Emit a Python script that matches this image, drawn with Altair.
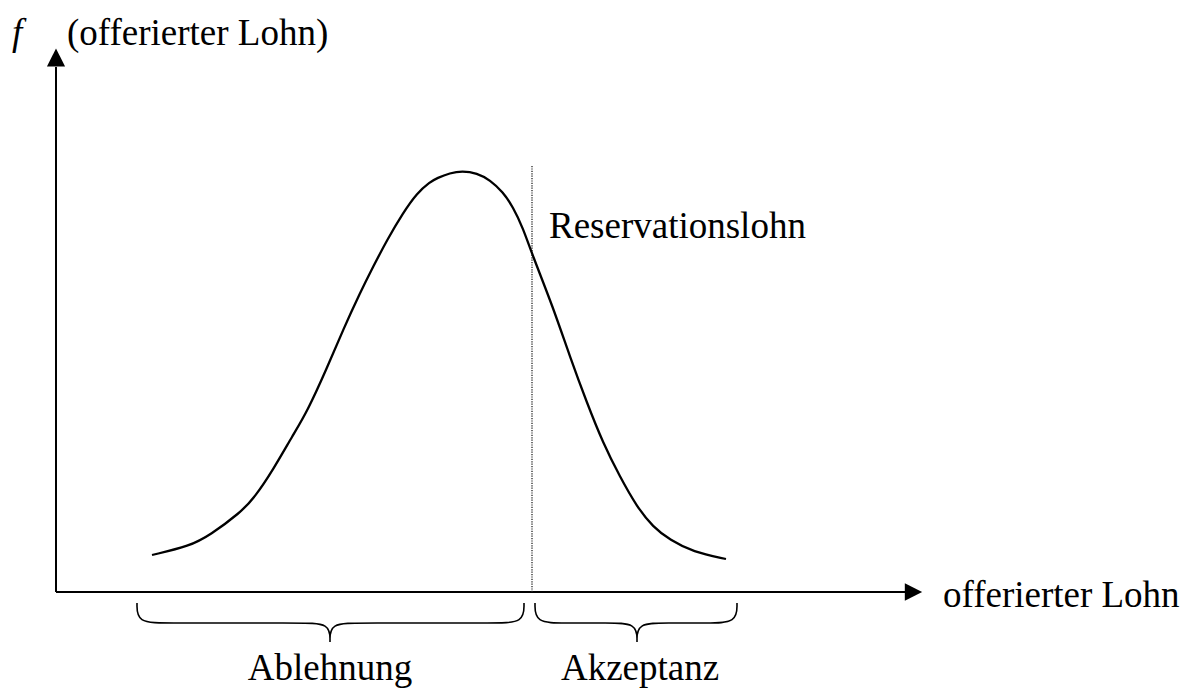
import altair as alt
import pandas as pd

# Bell curve of offered wages (wage units, density units)
curve_x = [9.6, 13.4, 15.4, 18.4, 19.9, 21.7, 23.7, 25.1, 27.1, 28.7, 30.4, 31.7, 33.1,
           34.7, 36.1, 37.4, 38.1, 39.4, 40.6, 42.1, 43.4, 44.7, 45.7, 46.7, 47.6,
           49.7, 51.4, 53.1, 54.7, 56.4, 58.1, 59.7, 61.4, 63.7, 67.0]
curve_y = [3.7, 4.6, 5.7, 7.9, 9.5, 12.2, 15.7, 18.0, 22.4, 26.2, 29.9, 32.5, 35.2,
           37.9, 39.9, 41.0, 41.4, 41.9, 42.1, 41.9, 41.2, 40.0, 38.5, 36.4, 33.8,
           28.5, 23.5, 18.9, 14.9, 11.5, 8.5, 6.5, 5.2, 4.0, 3.3]

# Reservation wage
res_wage = 47.6
res_top = 42.6

# Axes extents
x_axis_end = 84.9
y_axis_end = 52.5
x_arrow = 85.75
y_arrow = 53.45

# Braces: start, tip, end (x) ; levels (y)
brace_names = ["Ablehnung", "Akzeptanz"]
brace_start = [8.1, 47.9]
brace_tip = [27.4, 58.1]
brace_end = [46.8, 68.1]
brace_top, brace_mid, brace_low = -1.1, -3.1, -5.0
brace_r = 3.0

# Labels
left_labels = ["(offerierter Lohn)", "Reservationslohn", "offerierter Lohn"]
left_x = [1.1, 49.3, 88.7]
left_y = [54.7, 35.4, -1.5]
center_labels = ["Ablehnung", "Akzeptanz"]
center_x = [27.4, 58.4]
center_y = [-8.75, -8.75]

W, H = 1172, 680
FONT = "Liberation Serif"
FS = 37


def X(field="x"):
    return alt.X(f"{field}:Q", axis=None,
                 scale=alt.Scale(domain=[-4.8, -4.8 + W / 10], nice=False, zero=False))


def Y(field="y"):
    return alt.Y(f"{field}:Q", axis=None,
                 scale=alt.Scale(domain=[58.4 - H / 10, 58.4], nice=False, zero=False))


curve_df = pd.DataFrame({"x": curve_x, "y": curve_y})
curve = alt.Chart(curve_df).mark_line(color="black", strokeWidth=2.3, interpolate="basis").encode(
    x=X(), y=Y())

axes_df = pd.DataFrame({"x": [0, 0], "y": [0, 0], "xe": [x_axis_end, 0], "ye": [0, y_axis_end]})
axes = alt.Chart(axes_df).mark_rule(color="black", strokeWidth=2).encode(
    x=X(), y=Y(), x2=alt.X2("xe"), y2=alt.Y2("ye"))

up_df = pd.DataFrame({"x": [0], "y": [y_arrow]})
up = alt.Chart(up_df).mark_point(shape="M0,-1L1,1L-1,1Z", filled=True, color="black",
                                  size=330, opacity=1).encode(x=X(), y=Y())
right_df = pd.DataFrame({"x": [x_arrow], "y": [0]})
right = alt.Chart(right_df).mark_point(shape="M1,0L-1,-1L-1,1Z", filled=True, color="black",
                                        size=300, opacity=1).encode(x=X(), y=Y())

res_df = pd.DataFrame({"x": [res_wage], "y": [0], "ye": [res_top]})
res = alt.Chart(res_df).mark_rule(color="#222222", strokeWidth=1.3, strokeDash=[1.2, 1.2]).encode(
    x=X(), y=Y(), y2=alt.Y2("ye"))

rows = []
for name, a, m, b in zip(brace_names, brace_start, brace_tip, brace_end):
    pts = [(a, brace_top), (a, brace_mid), (a + brace_r, brace_mid), (m - brace_r, brace_mid),
           (m, brace_mid), (m, brace_low), (m, brace_low), (m, brace_low), (m, brace_mid),
           (m + brace_r, brace_mid), (b - brace_r, brace_mid), (b, brace_mid), (b, brace_top)]
    for i, (px, py) in enumerate(pts):
        rows.append({"brace": name, "i": i, "x": px, "y": py})
brace_df = pd.DataFrame(rows)
braces = alt.Chart(brace_df).mark_line(color="black", strokeWidth=1.6, interpolate="basis").encode(
    x=X(), y=Y(), detail="brace:N", order="i:Q")

f_df = pd.DataFrame({"x": [-4.4], "y": [54.7], "t": ["f"]})
ftext = alt.Chart(f_df).mark_text(font=FONT, fontSize=FS, fontStyle="italic", align="left",
                                  baseline="alphabetic", color="black").encode(
    x=X(), y=Y(), text="t:N")

lt_df = pd.DataFrame({"x": left_x, "y": left_y, "t": left_labels})
ltext = alt.Chart(lt_df).mark_text(font=FONT, fontSize=FS, align="left",
                                   baseline="alphabetic", color="black").encode(
    x=X(), y=Y(), text="t:N")

ct_df = pd.DataFrame({"x": center_x, "y": center_y, "t": center_labels})
ctext = alt.Chart(ct_df).mark_text(font=FONT, fontSize=FS, align="center",
                                   baseline="alphabetic", color="black").encode(
    x=X(), y=Y(), text="t:N")

chart = alt.layer(axes, up, right, res, curve, braces, ftext, ltext, ctext).properties(
    width=W, height=H, padding=0, autosize=alt.AutoSizeParams(type="none"),
    background="white"
).configure_view(strokeWidth=0)

chart.save("out.html", embed_options={"renderer": "svg", "actions": False})
